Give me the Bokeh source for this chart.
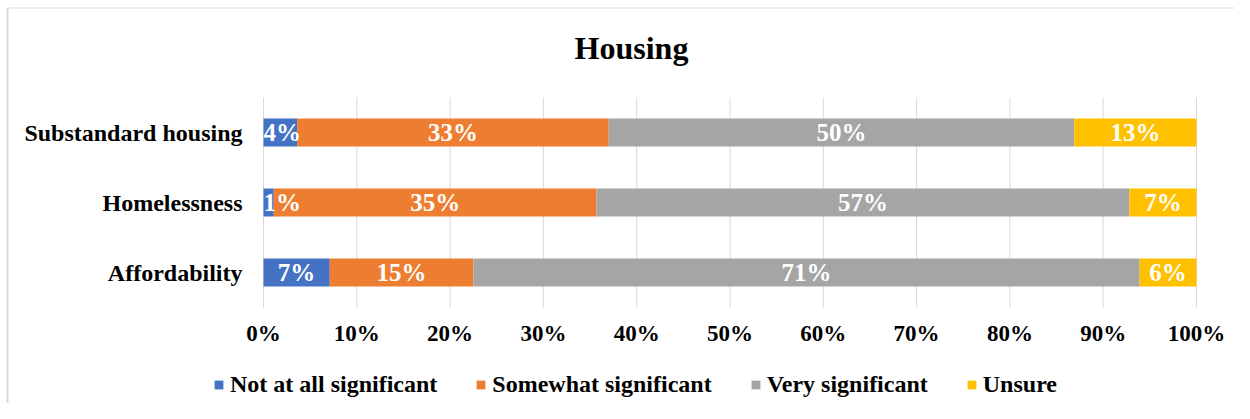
from bokeh.plotting import figure
from bokeh.models import ColumnDataSource, Range1d, Label
from bokeh.core.properties import value
from bokeh.embed import file_html
from bokeh.resources import INLINE

# ---- data (bottom to top) ----
categories = ["Affordability", "Homelessness", "Substandard housing"]
series_names = ["Not at all significant", "Somewhat significant", "Very significant", "Unsure"]
not_at_all = [7.1, 1.1, 3.6]
somewhat = [15.4, 34.6, 33.4]
very = [71.4, 57.1, 49.9]
unsure = [6.1, 7.2, 13.1]
colors = ["#4472C4", "#ED7D31", "#A5A5A5", "#FFC000"]
x_ticks = [0, 10, 20, 30, 40, 50, 60, 70, 80, 90, 100]
tick_labels = ["0%", "10%", "20%", "30%", "40%", "50%", "60%", "70%", "80%", "90%", "100%"]
title_text = "Housing"

FONT = "Liberation Serif"
GRID = "#D9D9D9"

# ---- layout (canvas pixels) ----
W, H = 1234, 403
plot_left, plot_right = 263, 1196
plot_top, plot_bottom = 97, 307
x_scale = (plot_right - plot_left) / 100.0
x_start = -plot_left / x_scale
x_end = 100 + (W - plot_right) / x_scale
ny = len(categories)
y_scale = (plot_bottom - plot_top) / ny
y_end = ny + plot_top / y_scale
y_start = -(H - plot_bottom) / y_scale

y_pos = [i + 0.5 for i in range(ny)]
keys = ["s0", "s1", "s2", "s3"]
series = [not_at_all, somewhat, very, unsure]

data = {"y": y_pos}
for k, s in zip(keys, series):
    data[k] = s
src = ColumnDataSource(data)

p = figure(
    x_range=Range1d(x_start, x_end), y_range=Range1d(y_start, y_end),
    width=W, height=H,
    output_backend="svg", toolbar_location=None,
    min_border_left=0, min_border_right=0, min_border_top=0, min_border_bottom=0,
)
p.xaxis.visible = False
p.yaxis.visible = False
p.grid.visible = False
p.outline_line_color = None
p.background_fill_color = "white"
p.border_fill_color = "white"

# chart border (top and left edge)
bx = x_start + 7.0 / x_scale
by = y_end - 7.5 / y_scale
p.segment(x0=[bx], y0=[y_start], x1=[bx], y1=[by], line_color=GRID, line_width=2)
p.segment(x0=[bx], y0=[by], x1=[x_end], y1=[by], line_color=GRID, line_width=1)

# vertical gridlines over the plot area
p.segment(x0=x_ticks, y0=[0] * len(x_ticks), x1=x_ticks, y1=[ny] * len(x_ticks),
          line_color=GRID, line_width=1)

# stacked bars
p.hbar_stack(keys, y="y", height=0.4, color=colors, source=src,
             legend_label=series_names, line_color=None)

# data labels
lx, ly, lt = [], [], []
for i, yy in enumerate(y_pos):
    left = 0.0
    for s in series:
        v = s[i]
        mid = left + v / 2.0
        lx.append(max(mid, 2.0))
        ly.append(yy)
        lt.append(f"{v:.0f}%")
        left += v
p.text(x="x", y="y", text="t", source=ColumnDataSource(dict(x=lx, y=ly, t=lt)),
       text_color="white", text_font=value(FONT), text_font_style="bold",
       text_font_size="25px", text_align="center", text_baseline="middle")

# category labels (y axis)
p.text(x=[-21.0 / x_scale] * ny, y=y_pos, text=categories,
       text_color="black", text_font=value(FONT), text_font_style="bold",
       text_font_size="24px", text_align="right", text_baseline="middle")

# x tick labels
p.text(x=x_ticks, y=[-26.0 / y_scale] * len(x_ticks), text=tick_labels,
       text_color="black", text_font=value(FONT), text_font_style="bold",
       text_font_size="23px", text_align="center", text_baseline="middle")

# title
p.add_layout(Label(x=(631 - plot_left) / x_scale, y=ny + 50.0 / y_scale, text=title_text,
                   text_font=FONT, text_font_style="bold", text_font_size="32px",
                   text_align="center", text_baseline="middle", text_color="black"))

# legend
lg = p.legend[0]
lg.orientation = "horizontal"
lg.location = (213, 5)
lg.label_text_font = FONT
lg.label_text_font_style = "bold"
lg.label_text_font_size = "24px"
lg.label_text_color = "black"
lg.label_height = 24
lg.glyph_width = 11
lg.glyph_height = 11
lg.label_standoff = 6
lg.spacing = 38
lg.padding = 0
lg.margin = 0
lg.border_line_color = None
lg.background_fill_alpha = 0

open("out.html", "w").write(file_html(p, INLINE))
